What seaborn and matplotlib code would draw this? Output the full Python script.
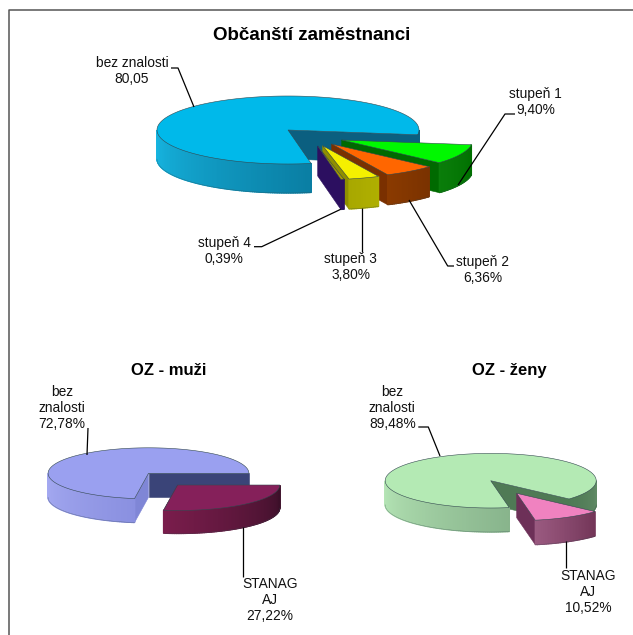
import numpy as np
import matplotlib
matplotlib.use("Agg")
import matplotlib.pyplot as plt
from matplotlib.colors import to_rgb
import seaborn as sns

# ---- data ----
main_title = "Občanští zaměstnanci"
main_labels = ["stupeň 1", "stupeň 2", "stupeň 3", "stupeň 4", "bez znalosti"]
main_values = [9.40, 6.36, 3.80, 0.39, 80.05]
men_title = "OZ - muži"
men_labels = ["STANAG AJ", "bez znalosti"]
men_values = [27.22, 72.78]
women_title = "OZ - ženy"
women_labels = ["STANAG AJ", "bez znalosti"]
women_values = [10.52, 89.48]

sns.set_theme(style="white")
plt.rcParams["font.family"] = ["Liberation Sans", "DejaVu Sans"]

fig = plt.figure(figsize=(6.33, 6.35), dpi=100)
ax = fig.add_axes([0, 0, 1, 1])
ax.set_xlim(0, 633)
ax.set_ylim(635, 0)
ax.axis("off")

EDGE = "#33484f"


def rim(c, a0, a1, rx, ry):
    t = np.radians(np.linspace(a0, a1, max(2, int(abs(a1 - a0)) + 2)))
    return c[0] + rx * np.cos(t), c[1] - ry * np.sin(t)


def top_face(c, a0, a1, rx, ry, col, z):
    x, y = rim(c, a0, a1, rx, ry)
    ax.fill(np.r_[c[0], x], np.r_[c[1], y], fc=col, ec=EDGE, lw=0.4, zorder=z)


def radial_face(c, a, rx, ry, d, col, z):
    x, y = rim(c, a, a, rx, ry)
    ax.fill([c[0], x[0], x[0], c[0]], [c[1], y[0], y[0] + d, c[1] + d],
            fc=col, ec=col, lw=0.4, zorder=z)


def side_face(c, a0, a1, rx, ry, d, stops, z):
    """Outer wall between angles a0 and a1, shaded along the visible arc."""
    lo, hi = sorted((a0, a1))
    lo_c, hi_c = np.array(to_rgb(stops[0])), np.array(to_rgb(stops[1]))
    for a in np.arange(lo, hi, 1.0):
        f = (a - lo) / max(hi - lo, 1)
        col = lo_c + (hi_c - lo_c) * f
        b = min(a + 1.5, hi)
        x, y = rim(c, a, b, rx, ry)
        ax.fill(np.r_[x, x[::-1]], np.r_[y, y[::-1] + d], fc=col, ec=col, lw=0.9, zorder=z)
    x, y = rim(c, lo, hi, rx, ry)
    ax.plot(x, y + d, color=EDGE, lw=0.3, alpha=0.6, zorder=z + 0.1)


def big_slice(c, start, value, rx, ry, d, top, inner, stops, dark_side=None, cut=None):
    """Largest slice: runs counter-clockwise from start through value percent."""
    end = start + value * 3.6
    radial_face(c, start, rx, ry, d, inner, 1)
    if cut is not None:
        radial_face(c, end, rx, ry, d, cut, 1.5)
    side_face(c, 180, end, rx, ry, d, stops, 2)
    if dark_side is not None and start < 0:
        side_face(c, start, 0, rx, ry, d, dark_side, 2)
    top_face(c, start, end, rx, ry, top, 3)


def small_slice(c, a0, value, rx, ry, d, top, left, stops, z):
    """Exploded slice: runs clockwise from a0 through value percent."""
    a1 = a0 - value * 3.6
    radial_face(c, a1, rx, ry, d, left, z)
    side_face(c, a1, a0, rx, ry, d, stops, z + 0.2)
    top_face(c, a1, a0, rx, ry, top, z + 0.4)
    return a1


def note(x, y, s):
    ax.text(x, y, s, ha="center", va="center", fontsize=9.9, color="#111111",
            linespacing=1.19, zorder=10)


def leader(xs, ys):
    ax.plot(xs, ys, color="black", lw=0.9, zorder=9, solid_capstyle="butt")


# ---- frame ----
ax.plot([9, 9, 633], [635, 10, 10], color="#555555", lw=1.1, zorder=9)

# ---- main pie ----
rx, ry, d = 131, 34, 29
start = -8.0
big_slice((288, 130), start, main_values[4], rx, ry, d, "#00b9ea", "#0b5f80",
          ("#17b8e4", "#0a7ea3"), dark_side=("#0b5f80", "#0b5f80"))
pos = [(341.7, 140), (331.7, 144), (322.7, 145.7), (317.7, 146)]
tops = ["#00f800", "#ff6600", "#f5f000", "#a89a00"]
lefts = ["#006a00", "#7a3000", "#8f8f00", "#2c0f60"]
sides = [("#0a7d0a", "#007000"), ("#8a3a00", "#7a3200"), ("#a8a800", "#b0b000"), ("#2c0f60", "#2c0f60")]
a = start
zs = [5, 6, 7, 8]
for i in range(4):
    a = small_slice(pos[i], a, main_values[i], rx, ry, 30, tops[i], lefts[i], sides[i], zs[i])

ax.text(312, 35, main_title, ha="center", va="center", fontsize=13.5, fontweight="bold", color="black", zorder=10)
note(132, 71, "bez znalosti\n80,05")
leader([171, 178, 194], [68, 68, 107])
note(535.7, 102, "stupeň 1\n9,40%")
leader([515, 505, 458], [114, 114, 185])
note(482.7, 270, "stupeň 2\n6,36%")
leader([409, 447.7, 454], [200, 266, 266])
note(350.7, 267, "stupeň 3\n3,80%")
leader([362.3, 362.3], [208, 251.7])
note(224.3, 251, "stupeň 4\n0,39%")
leader([340.7, 261.7, 254], [209.3, 246.7, 246.7])

# ---- men ----
big_slice((148.5, 473.3), 0, men_values[1], 100.4, 25.5, 24, "#9aa0f0", "#3a4478",
          ("#a6abf2", "#8a90e0"), cut="#7f86d6")
small_slice((177.7, 485), 0, men_values[0], 102, 25.5, 23, "#85205a", "#6a1a44", ("#7a1d4c", "#3a0f28"), 5)
ax.text(168.5, 370.5, men_title, ha="center", va="center", fontsize=12, fontweight="bold", color="black", zorder=10)
note(62, 407.7, "bez\nznalosti\n72,78%")
leader([88, 87], [428, 455])
note(270, 600, "STANAG\nAJ\n27,22%")
leader([243, 243], [527, 577])

# ---- women ----
big_slice((490.7, 480.7), -42, women_values[1], 105.5, 27.3, 24, "#b4eab4", "#4f7a55",
          ("#b8e8b8", "#88b48c"), dark_side=("#4f7a55", "#608a65"))
small_slice((516.7, 493.3), -42, women_values[0], 105.5, 27.3, 24.5, "#f082c0", "#6d3058", ("#9a5a80", "#733558"), 5)
ax.text(509, 370.5, women_title, ha="center", va="center", fontsize=12, fontweight="bold", color="black", zorder=10)
note(392.3, 407.7, "bez\nznalosti\n89,48%")
leader([418.3, 428.3, 440], [427, 427, 456])
note(588, 592, "STANAG\nAJ\n10,52%")
leader([566.3, 566.3], [541, 567.7])

fig.savefig("out.png", dpi=100, facecolor="white")
